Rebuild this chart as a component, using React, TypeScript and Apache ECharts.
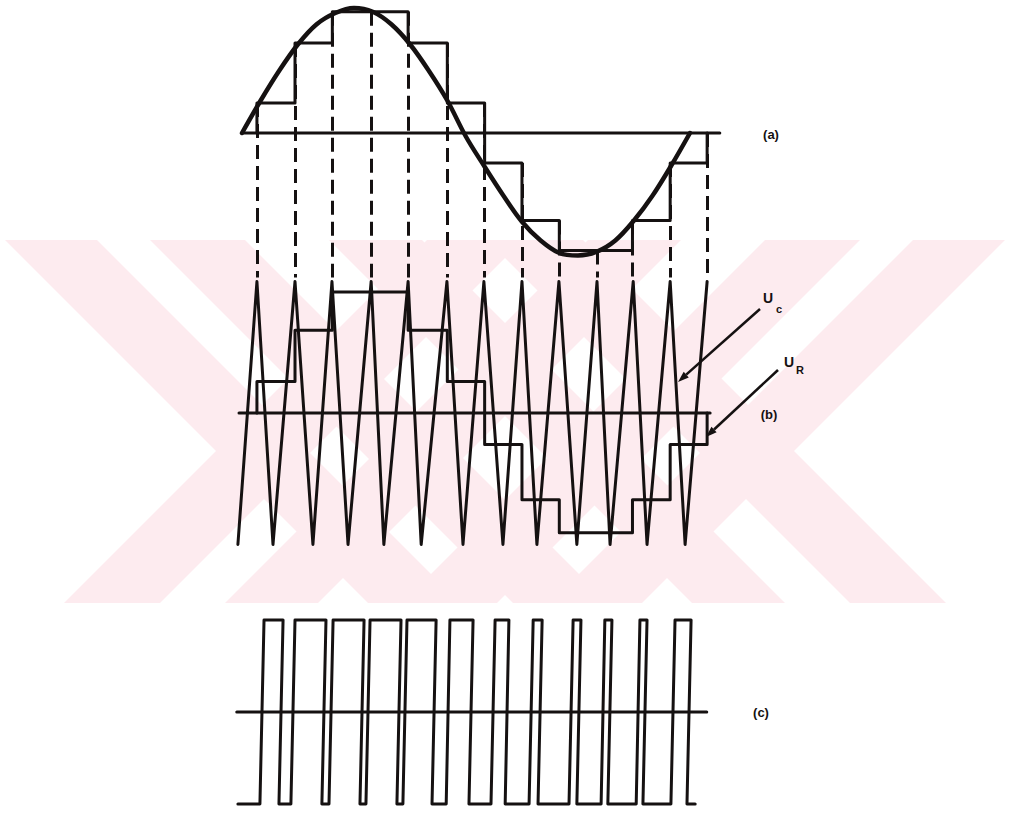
import React, { useEffect, useRef } from "react";
import * as echarts from "echarts";

// ---- data (x in carrier-period units from the start of the reference sine) ----
// (a) reference sine
const SINE_X = [0, 0.5, 1, 1.5, 2, 2.5, 3, 3.5, 4, 4.5, 5, 5.5, 6, 6.5, 7, 7.5, 8, 8.5, 9, 9.5, 10, 10.5, 11, 11.5, 12];
const SINE_Y = [0, 0.26, 0.5, 0.71, 0.87, 0.96, 1.0, 0.97, 0.87, 0.71, 0.5, 0.26, -0.03, -0.27, -0.5, -0.71, -0.86, -0.96, -0.98, -0.95, -0.86, -0.7, -0.5, -0.26, 0];
// sampling instants (dashed verticals / steps)
const SAMPLE_X = [0.4, 1.42, 2.42, 3.46, 4.45, 5.5, 6.5, 7.5, 8.5, 9.52, 10.46, 11.47, 12.46];
// (a) sample-and-hold levels
const HOLD_A = [0.24, 0.72, 0.97, 0.97, 0.72, 0.24, -0.24, -0.7, -0.94, -0.94, -0.7, -0.24];
// (b) triangular carrier Uc
const CARRIER_PEAK_X = [0.4, 1.42, 2.41, 3.46, 4.45, 5.49, 6.48, 7.5, 8.49, 9.51, 10.48, 11.47, 12.46];
const CARRIER_VALLEY_X = [-0.11, 0.83, 1.9, 2.84, 3.8, 4.8, 5.92, 6.99, 7.9, 8.97, 9.86, 10.85, 11.87];
// (b) stepped reference UR
const HOLD_B = [0.24, 0.63, 0.92, 0.92, 0.63, 0.24, -0.24, -0.66, -0.91, -0.91, -0.66, -0.24];
// (c) PWM output edges
const PWM_START = -0.11;
const PWM_END = 12.14;
const PWM_RISE_BOTTOM = [0.48, 1.31, 2.33, 3.32, 4.31, 5.47, 6.67, 7.69, 8.76, 9.62, 10.56, 11.49];
const PWM_RISE_TOP = [0.59, 1.42, 2.44, 3.43, 4.42, 5.57, 6.78, 7.8, 8.87, 9.72, 10.66, 11.6];
const PWM_FALL_TOP = [1.1, 2.25, 3.27, 4.26, 5.2, 6.19, 7.15, 8.04, 9.08, 9.91, 10.85, 12.03];
const PWM_FALL_BOTTOM = [0.99, 2.14, 3.16, 4.15, 5.09, 6.08, 7.05, 7.93, 8.97, 9.8, 10.74, 11.92];
// axis (zero line) extents per panel
const AXIS_A = [0, 12.8];
const AXIS_B = [-0.08, 12.54];
const AXIS_C = [-0.14, 12.45];

// ---- layout ----
const W = 1010;
const H = 816;
const X0_PX = 242;
const PX_PER_UNIT = 37.33;
const A_BASE = 133, A_AMP = 125;
const B_BASE = 413, B_AMP = 131.5;
const C_BASE = 712, C_AMP = 92;
const INK = "#151111";
const PINK = "#fdebef";

const ya = (v: number) => A_BASE - v * A_AMP;
const yb = (v: number) => B_BASE - v * B_AMP;
const yc = (v: number) => C_BASE - v * C_AMP;

function staircase(levels: number[], xs: number[], f: (v: number) => number) {
  const pts: number[][] = [[xs[0], f(0)]];
  levels.forEach((l, i) => {
    pts.push([xs[i], f(l)]);
    pts.push([xs[i + 1], f(l)]);
  });
  pts.push([xs[xs.length - 1], f(0)]);
  return pts;
}

function lineSeries(data: number[][], width: number, extra: any = {}) {
  return {
    type: "line",
    data,
    showSymbol: false,
    symbol: "none",
    silent: true,
    lineStyle: { color: INK, width, cap: "round", join: "round" },
    z: 3,
    ...extra,
  };
}

// background watermark: two big striped "X" marks (mirror images)
function watermark() {
  const top = 240, bot = 603, h = bot - top;
  // band going down-right, given by its x-span at the top edge
  const down = (o1: number, o2: number) => [[o1, top], [o2, top], [o2 + h, bot], [o1 + h, bot]];
  // band going down-left, given by its x-span at the bottom edge
  const up = (o1: number, o2: number) => [[o1 + h, top], [o2 + h, top], [o2, bot], [o1, bot]];
  const shapes = [
    down(5, 97), down(150, 245), up(64, 160), up(225, 318),
    up(550, 642), up(402, 497), down(487, 583), down(329, 422),
  ];
  return shapes.map((points) => ({
    type: "polygon",
    z: -10,
    silent: true,
    shape: { points },
    style: { fill: PINK },
  }));
}

function arrow(x1: number, y1: number, x2: number, y2: number) {
  const dx = x2 - x1, dy = y2 - y1;
  const len = Math.hypot(dx, dy);
  const ux = dx / len, uy = dy / len;
  const hl = 11, hw = 3.8;
  const bx = x2 - ux * hl, by = y2 - uy * hl;
  return [
    { type: "line", z: 10, shape: { x1, y1, x2: bx, y2: by }, style: { stroke: INK, lineWidth: 2.5 } },
    {
      type: "polygon",
      z: 10,
      shape: { points: [[x2, y2], [bx + uy * hw, by - ux * hw], [bx - uy * hw, by + ux * hw]] },
      style: { fill: INK },
    },
  ];
}

function label(text: string, x: number, y: number, size: number) {
  return {
    type: "text",
    z: 10,
    x,
    y,
    style: {
      text,
      fill: INK,
      font: `bold ${size}px "Liberation Sans", Arial, sans-serif`,
      textAlign: "center",
      textVerticalAlign: "middle",
    },
  };
}

export default function App() {
  const ref = useRef<HTMLDivElement>(null);
  useEffect(() => {
    if (!ref.current) return;
    const chart = echarts.init(ref.current, null, { renderer: "svg" });

    const sine = SINE_X.map((x, i) => [x, ya(SINE_Y[i])]);
    const holdA = staircase(HOLD_A, SAMPLE_X, ya);
    const holdB = staircase(HOLD_B, SAMPLE_X, yb);
    const carrier: number[][] = [];
    CARRIER_PEAK_X.forEach((px, i) => {
      carrier.push([CARRIER_VALLEY_X[i], yb(-1)]);
      carrier.push([px, yb(1)]);
    });
    const pwm: number[][] = [[PWM_START, yc(-1)]];
    PWM_RISE_BOTTOM.forEach((rb, i) => {
      pwm.push([rb, yc(-1)]);
      pwm.push([PWM_RISE_TOP[i], yc(1)]);
      pwm.push([PWM_FALL_TOP[i], yc(1)]);
      pwm.push([PWM_FALL_BOTTOM[i], yc(-1)]);
    });
    pwm.push([PWM_END, yc(-1)]);

    const dashed = SAMPLE_X.map((x, i) => {
      const prev = i === 0 ? 0 : HOLD_A[i - 1];
      const next = i < HOLD_A.length ? HOLD_A[i] : 0;
      return { coords: [[x, ya(Math.max(prev, next))], [x, yb(1) - 4]] };
    });

    chart.setOption({
      animation: false,
      backgroundColor: "#ffffff",
      grid: { left: 0, right: 0, top: 0, bottom: 0 },
      xAxis: {
        type: "value",
        min: -X0_PX / PX_PER_UNIT,
        max: (W - X0_PX) / PX_PER_UNIT,
        show: false,
      },
      yAxis: { type: "value", inverse: true, min: 0, max: H, show: false },
      graphic: [
        ...watermark(),
        ...arrow(760, 309, 678, 382),
        ...arrow(778, 370, 706, 437),
        label("(a)", 771, 134, 13),
        label("(b)", 769, 414, 13),
        label("(c)", 761, 712, 13),
        label("U", 768, 298, 14),
        label("c", 779, 309, 11),
        label("U", 789, 362, 14),
        label("R", 800, 370, 11),
      ],
      series: [
        lineSeries([[AXIS_A[0], ya(0)], [AXIS_A[1], ya(0)]], 3),
        lineSeries([[AXIS_B[0], yb(0)], [AXIS_B[1], yb(0)]], 3),
        lineSeries([[AXIS_C[0], yc(0)], [AXIS_C[1], yc(0)]], 3),
        {
          type: "lines",
          coordinateSystem: "cartesian2d",
          silent: true,
          z: 3,
          data: dashed,
          lineStyle: { color: INK, width: 3, type: [14, 7], opacity: 1 },
        },
        lineSeries(sine, 4.5, { smooth: 0.35 }),
        lineSeries(holdA, 3),
        lineSeries(carrier, 3),
        lineSeries(holdB, 3),
        lineSeries(pwm, 3),
      ],
    });
    return () => chart.dispose();
  }, []);
  return (
    <div
      ref={ref}
      style={{ position: "absolute", left: 0, top: 0, width: W, height: H }}
    />
  );
}
